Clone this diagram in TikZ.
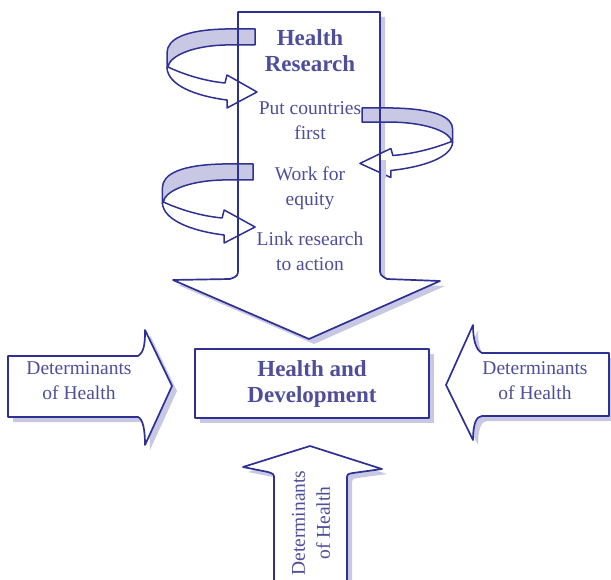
\documentclass[tikz,border=0pt]{standalone}
\usepackage{fontspec}
\setmainfont{Liberation Serif}
\definecolor{ink}{RGB}{46,49,146}
\definecolor{txt}{RGB}{78,78,155}
\definecolor{lav}{RGB}{200,200,228}
% outline of the big downward "Health Research" arrow
\newcommand\researcharrow{(238,12) -- (380,12) -- (380,268) .. controls (380,275) .. (387,279) -- (440,281) -- (309,339) -- (173,280) -- (230,279) .. controls (238,276) .. (238,268) -- cycle}
\begin{document}
\begin{tikzpicture}[x=1pt,y=-1pt,
  outl/.style={draw=ink, line width=1.7pt, line join=round},
  drop/.style={preaction={fill=lav, draw=none, transform canvas={shift={(5pt,-5pt)}}}},
  lbl/.style={text=txt, align=center, inner sep=0pt, font=\fontsize{19.5}{25}\selectfont},
  blbl/.style={text=txt, align=center, inner sep=0pt, font=\fontsize{23}{26}\selectfont\bfseries},
  band/.style={draw=ink, line width=1.5pt, line join=round, fill=lav},
  face/.style={draw=ink, line width=1.5pt, line join=round, fill=white},
  swirl/.pic={
    % front face of the twisted ribbon ending in an arrow head
    \path[face] (-88,39) .. controls (-87,56) and (-60,67) .. (-28,71) -- (-28,79) -- (2,63) -- (-28,46) -- (-30,54) .. controls (-50,52) and (-70,46) .. (-87,38) -- cycle;
    % back face of the ribbon
    \path[band] (0,0) -- (-30,0) .. controls (-70,1) and (-88,10) .. (-88,24) -- (-88,39) -- (-87,38) .. controls (-86,28) and (-65,17) .. (-30,16) -- (0,16) -- cycle;
  }]
\useasboundingbox (0,0) rectangle (611,580);

% big arrow: shadow and fill first, outline after the ribbons
\path[drop, fill=white] \researcharrow;
\pic at (255,29) {swirl};
\pic[xscale=-1.03, yscale=0.88] at (362,108) {swirl};
\pic[xscale=1.03] at (253,164) {swirl};
\fill[lav] (381,160) rectangle (385.5,178);
\draw[outl] \researcharrow;

\node[blbl] (hr) at (310,50.7) {Health\\Research};
\node[lbl] (pcf) at (310,120.4) {Put countries\\first};
\node[lbl] (wfe) at (310,188) {Work for\\equity};
\node[lbl] (lra) at (310,251.8) {Link research\\to action};

% central box
\node[outl, drop, fill=white, blbl, minimum width=234pt, minimum height=69pt] (hd) at (312,383.5) {Health and\\Development};

% left arrow
\path[outl, drop, fill=white] (8,356) -- (138,356) .. controls (145,352) and (145,340) .. (145,330) -- (172,386) -- (145,445) .. controls (145,430) and (143,419) .. (138,417) -- (8,417) -- cycle;
\node[lbl] (dl) at (79,381) {Determinants\\of Health};

% right arrow
\path[outl, drop, fill=white] (609,353) -- (482,353) .. controls (476,350) and (473,340) .. (473,325) -- (446,385) -- (473,440) .. controls (473,425) and (476,416) .. (482,416) -- (609,416) -- cycle;
\node[lbl] (dr) at (535,381) {Determinants\\of Health};

% bottom arrow, open at the lower edge
\path[outl, drop, fill=white] (274,592) -- (274,479) .. controls (274,474) .. (268,472) -- (243,467) -- (310,446) -- (382,469) -- (353,473) .. controls (347,474) .. (347,480) -- (347,592);
\node[lbl, rotate=90] (db) at (311,523) {Determinants\\of Health};
\end{tikzpicture}
\end{document}
